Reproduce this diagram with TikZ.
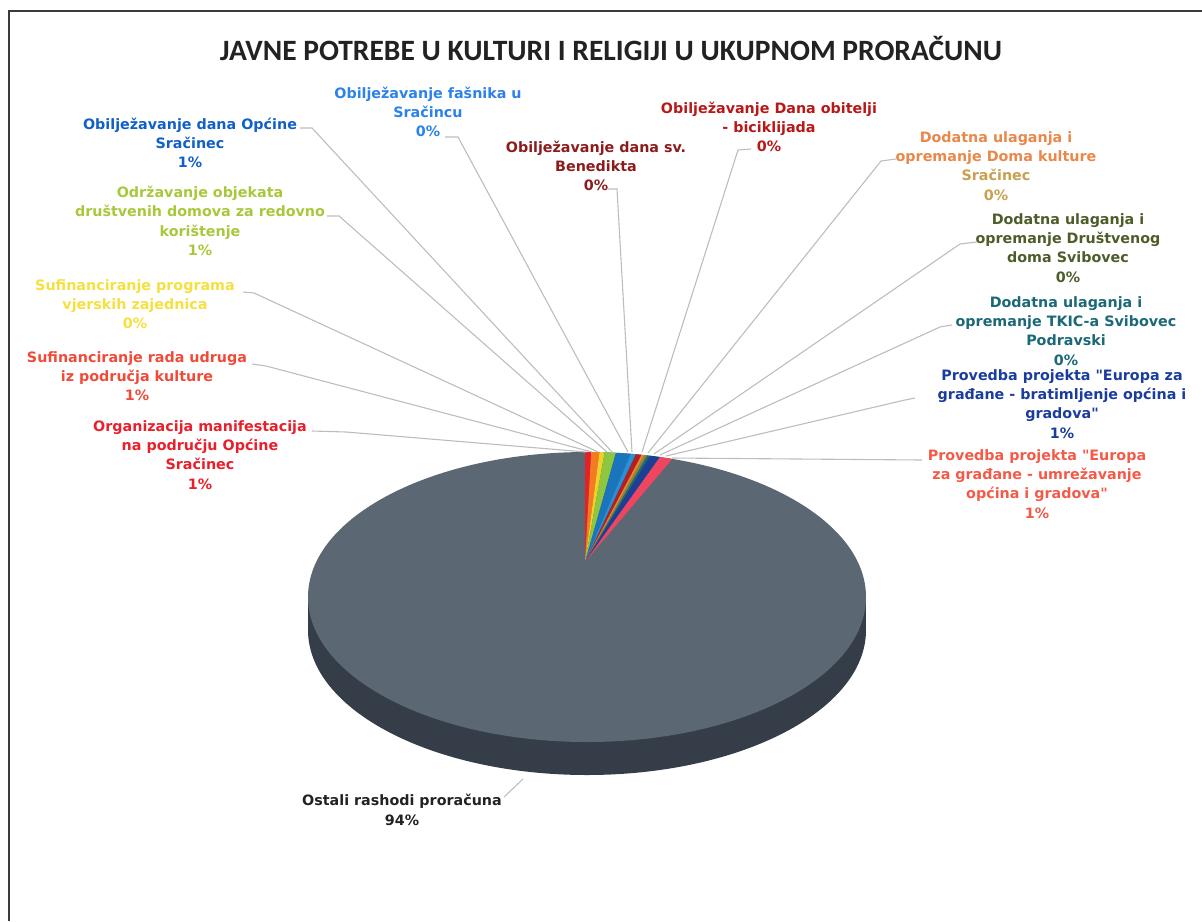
\documentclass[tikz,border=0pt]{standalone}
\usepackage{fontspec}
\setmainfont{DejaVu Sans}
\newfontfamily\titlefont{Carlito}
\usepackage{xcolor}
\usetikzlibrary{calc}
\definecolor{framegray}{HTML}{3A3A3A}
\definecolor{titleblack}{HTML}{222222}
\definecolor{leadgray}{HTML}{BDBDBD}
\definecolor{pietop}{HTML}{5C6774}
\definecolor{pieside}{HTML}{343D48}
% slice colours
\definecolor{sred}{HTML}{E42128}
\definecolor{sorange}{HTML}{F47B20}
\definecolor{syellow}{HTML}{F2D02A}
\definecolor{sgreen}{HTML}{8DC63F}
\definecolor{sblue}{HTML}{1B75BC}
\definecolor{slblue}{HTML}{2A90D8}
\definecolor{sdred}{HTML}{A0282C}
\definecolor{sred2}{HTML}{C0181A}
\definecolor{sorange2}{HTML}{E8843A}
\definecolor{solive}{HTML}{8A8A2A}
\definecolor{steal}{HTML}{1A6A7A}
\definecolor{sdblue}{HTML}{1C3F94}
\definecolor{spink}{HTML}{EF4560}
% label colours
\definecolor{lopcine}{HTML}{1060C8}
\definecolor{lodrz}{HTML}{A8C83C}
\definecolor{lvjer}{HTML}{F5E040}
\definecolor{ludruga}{HTML}{F04A38}
\definecolor{lorg}{HTML}{E8202C}
\definecolor{lfasnik}{HTML}{2C82E8}
\definecolor{lbened}{HTML}{8C1C1C}
\definecolor{lobit}{HTML}{B81818}
\definecolor{ldoma}{HTML}{E8884A}
\definecolor{ldomab}{HTML}{C8A050}
\definecolor{ldrus}{HTML}{4E5C2A}
\definecolor{ltkic}{HTML}{1A6878}
\definecolor{lbrat}{HTML}{1A3C9C}
\definecolor{lumrez}{HTML}{F45A48}
\definecolor{lostali}{HTML}{222222}

\begin{document}
\begin{tikzpicture}[x=1pt,y=-1pt,
	lab/.style={align=center, inner sep=0pt, font=\bfseries\fontsize{14.3}{19.3}\selectfont},
	leader/.style={draw=leadgray, line width=1.1pt}]
	\useasboundingbox (0,0) rectangle (1202,921);
	% draw frame
	\draw[line width=1.8pt, framegray] (9,921) -- (9,11) -- (1202,11);
	% title
	\node[font=\titlefont\bfseries\fontsize{29.5}{32}\selectfont, text=titleblack] (title) at (611,48) {JAVNE POTREBE U KULTURI I RELIGIJI U UKUPNOM PRORAČUNU};
	% draw pie
	\coordinate (ctr) at (587,597);
	\coordinate (apex) at (585,562);
	\fill[pieside] (308,597) rectangle (866,630);
	\fill[pieside] (587,630) ellipse [x radius=279, y radius=145];
	\fill[pietop] (ctr) ellipse [x radius=279, y radius=145];
	% small slices
	\begin{scope}
		\clip (ctr) ellipse [x radius=279, y radius=145];
		\fill[sred] (apex) -- ($(apex)!1.4!(585,456)$) -- ($(apex)!1.4!(591,456)$) -- cycle;
		\fill[sorange] (apex) -- ($(apex)!1.4!(591,456)$) -- ($(apex)!1.4!(599,456)$) -- cycle;
		\fill[syellow] (apex) -- ($(apex)!1.4!(599,456)$) -- ($(apex)!1.4!(604,456)$) -- cycle;
		\fill[sgreen] (apex) -- ($(apex)!1.4!(604,456)$) -- ($(apex)!1.4!(615,456)$) -- cycle;
		\fill[sblue] (apex) -- ($(apex)!1.4!(615,456)$) -- ($(apex)!1.4!(630,456)$) -- cycle;
		\fill[slblue] (apex) -- ($(apex)!1.4!(630,456)$) -- ($(apex)!1.4!(635,456)$) -- cycle;
		\fill[sdred] (apex) -- ($(apex)!1.4!(635,456)$) -- ($(apex)!1.4!(638,456)$) -- cycle;
		\fill[sred2] (apex) -- ($(apex)!1.4!(638,456)$) -- ($(apex)!1.4!(641,456)$) -- cycle;
		\fill[sorange2] (apex) -- ($(apex)!1.4!(641,456)$) -- ($(apex)!1.4!(644,456)$) -- cycle;
		\fill[solive] (apex) -- ($(apex)!1.4!(644,456)$) -- ($(apex)!1.4!(647,456)$) -- cycle;
		\fill[steal] (apex) -- ($(apex)!1.4!(647,456)$) -- ($(apex)!1.4!(650,456)$) -- cycle;
		\fill[sdblue] (apex) -- ($(apex)!1.4!(650,456)$) -- ($(apex)!1.4!(660,457)$) -- cycle;
		\fill[spink] (apex) -- ($(apex)!1.4!(660,457)$) -- ($(apex)!1.4!(673,458)$) -- cycle;
	\end{scope}
	% labels left
	\node[lab, text=lopcine] (opcine) at (190,143) {Obilježavanje dana Općine\\Sračinec\\1\%};
	\node[lab, text=lodrz] (odrz) at (200,221) {Održavanje objekata\\društvenih domova za redovno\\korištenje\\1\%};
	\node[lab, text=lvjer] (vjer) at (135,304) {Sufinanciranje programa\\vjerskih zajednica\\0\%};
	\node[lab, text=ludruga] (udruga) at (137,376) {Sufinanciranje rada udruga\\iz područja kulture\\1\%};
	\node[lab, text=lorg] (org) at (200,455) {Organizacija manifestacija\\na području Općine\\Sračinec\\1\%};
	% labels top
	\node[lab, text=lfasnik] (fasnik) at (428,112) {Obilježavanje fašnika u\\Sračincu\\0\%};
	\node[lab, text=lbened] (bened) at (596,166) {Obilježavanje dana sv.\\Benedikta\\0\%};
	\node[lab, text=lobit] (obit) at (769,127) {Obilježavanje Dana obitelji\\- biciklijada\\0\%};
	% labels right
	\node[lab, text=ldoma] (doma) at (996,166) {Dodatna ulaganja i\\opremanje Doma kulture\\\textcolor{ldomab}{Sračinec}\\\textcolor{ldomab}{0\%}};
	\node[lab, text=ldrus] (drus) at (1068,248) {Dodatna ulaganja i\\opremanje Društvenog\\doma Svibovec\\0\%};
	\node[lab, text=ltkic] (tkic) at (1066,331) {Dodatna ulaganja i\\opremanje TKIC-a Svibovec\\Podravski\\0\%};
	\node[lab, text=lbrat] (brat) at (1062,404) {Provedba projekta \textquotedbl Europa za\\građane - bratimljenje općina i\\gradova\textquotedbl\\1\%};
	\node[lab, text=lumrez] (umrez) at (1037,484) {Provedba projekta \textquotedbl Europa\\za građane - umrežavanje\\općina i gradova\textquotedbl\\1\%};
	\node[lab, text=lostali] (ostali) at (402,810) {Ostali rashodi proračuna\\94\%};
	% leader lines
	\coordinate (k1) at (300,128); \coordinate (e1) at (612,452);
	\coordinate (k2) at (327,216); \coordinate (e2) at (607,452);
	\coordinate (k3) at (243,292); \coordinate (e3) at (598,452);
	\coordinate (k4) at (252,364); \coordinate (e4) at (592,452);
	\coordinate (k5) at (312,431); \coordinate (e5) at (586,452);
	\coordinate (k6) at (445,137); \coordinate (e6) at (628,452);
	\coordinate (k7) at (608,189); \coordinate (e7) at (632,452);
	\coordinate (k8) at (751,149); \coordinate (e8) at (642,452);
	\coordinate (k9) at (896,159); \coordinate (e9) at (648,453);
	\coordinate (k10) at (977,242); \coordinate (e10) at (654,454);
	\coordinate (k11) at (952,325); \coordinate (e11) at (660,455);
	\coordinate (k12) at (915,398); \coordinate (e12) at (666,456);
	\coordinate (k13) at (922,460); \coordinate (e13) at (672,458);
	\coordinate (k14) at (504,797); \coordinate (e14) at (523,779);
	\draw[leader] (k1) -- ++(12,0) -- (e1);
	\draw[leader] (k2) -- ++(12,0) -- (e2);
	\draw[leader] (k3) -- ++(11,1) -- (e3);
	\draw[leader] (k4) -- ++(14,2) -- (e4);
	\draw[leader] (k5) -- ++(34,1) -- (e5);
	\draw[leader] (k6) -- ++(13,0) -- (e6);
	\draw[leader] (k7) -- ++(9,0) -- (e7);
	\draw[leader] (k8) -- ++(-13,1) -- (e8);
	\draw[leader] (k9) -- ++(-15,2) -- (e9);
	\draw[leader] (k10) -- ++(-17,2) -- (e10);
	\draw[leader] (k11) -- ++(-12,2) -- (e11);
	\draw[leader] (k12) -- ++(-10,2) -- (e12);
	\draw[leader] (k13) -- (e13);
	\draw[leader] (k14) -- (e14);
\end{tikzpicture}
\end{document}
